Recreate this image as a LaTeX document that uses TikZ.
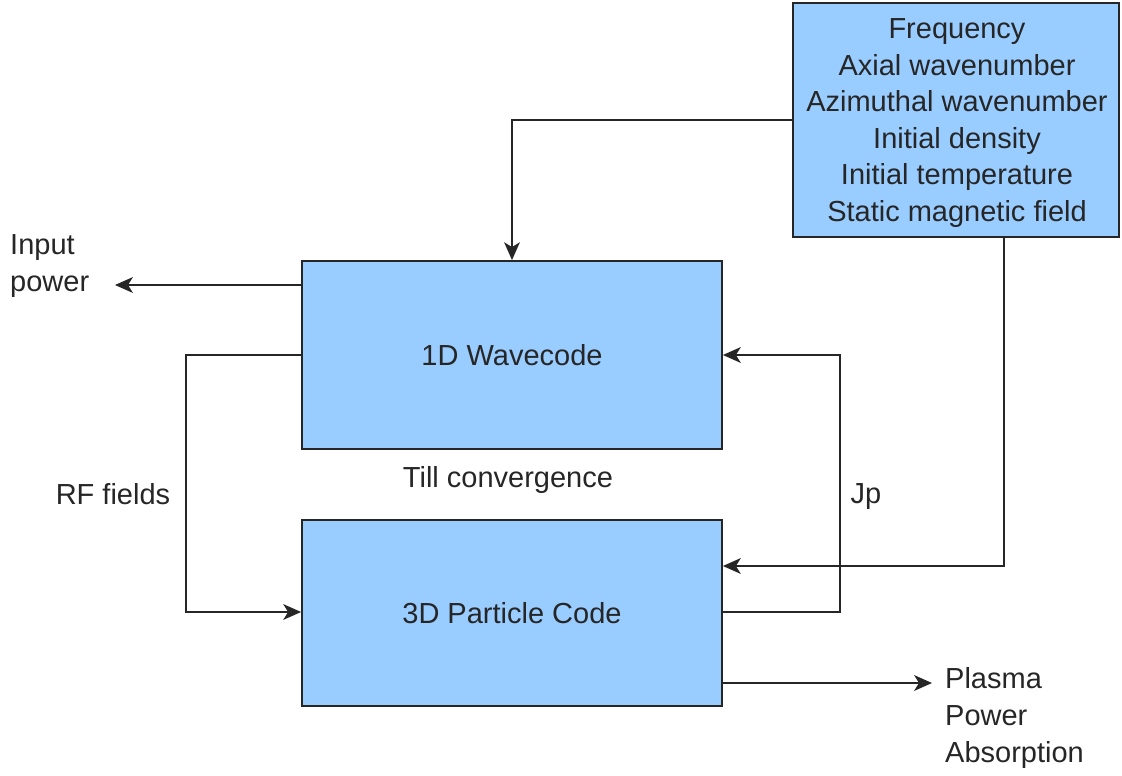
\documentclass[tikz,border=0pt]{standalone}
\usepackage{fontspec}
\setmainfont{Liberation Sans}
\usetikzlibrary{arrows.meta}
\definecolor{boxblue}{HTML}{99CCFF}
\definecolor{ink}{HTML}{262626}
\tikzset{
  block/.style={draw=ink, line width=1.8pt, fill=boxblue, inner sep=0pt, align=center,
    text=ink, font=\fontsize{29}{36.6}\selectfont},
  lbl/.style={text=ink, inner sep=0pt, font=\fontsize{29}{36.6}\selectfont},
  link/.style={draw=ink, line width=1.6pt},
  tipshape/.tip={Stealth[length=18pt, width=16pt, inset=5pt, line width=0pt]},
  arr/.style={link, -tipshape},
}
\begin{document}
\begin{tikzpicture}[x=1pt, y=-1pt]
  \useasboundingbox (0,0) rectangle (1122,776);

  % blocks
  \node[block, minimum width=326pt, minimum height=234pt] (top) at (956,120) {};
  \node[align=center, text=ink, inner sep=0pt, font=\fontsize{29}{36.6}\selectfont] (toptext) at (957,123)
    {Frequency\\Axial wavenumber\\Azimuthal wavenumber\\Initial density\\Initial temperature\\Static magnetic field};
  \node[block, minimum width=420pt, minimum height=188pt] (wave) at (512,355) {1D Wavecode};
  \node[block, minimum width=420pt, minimum height=186pt] (part) at (512,613) {3D Particle Code};

  % free labels
  \node[lbl, anchor=west, align=left] (inlbl) at (10,266) {Input\\power};
  \node[lbl, anchor=west, align=left] (outlbl) at (945,718) {Plasma\\Power\\Absorption};
  \node[lbl] (rflbl) at (113,494) {RF fields};
  \node[lbl] (tilllbl) at (508,480) {Till convergence};
  \node[lbl] (jplbl) at (866,497) {Jp};

  % routing points
  \coordinate (inp) at (115,285);
  \coordinate (rfA) at (186,355);
  \coordinate (rfB) at (186,612);
  \coordinate (jpA) at (840,612);
  \coordinate (jpB) at (840,355);
  \coordinate (pin) at (1004,566);
  \coordinate (pout) at (932,683);
  \coordinate (pcol) at (1004,0);

  % connectors
  \draw[arr] (top.west) -| (wave.north);
  \draw[arr] (top.south -| pcol) -- (pin) -- (part.east |- pin);
  \draw[arr] (wave.west |- inp) -- (inp);
  \draw[arr] (wave.west |- rfA) -- (rfA) -- (rfB) -- (part.west |- rfB);
  \draw[arr] (part.east |- jpA) -- (jpA) -- (jpB) -- (wave.east |- jpB);
  \draw[arr] (part.east |- pout) -- (pout);
\end{tikzpicture}
\end{document}
